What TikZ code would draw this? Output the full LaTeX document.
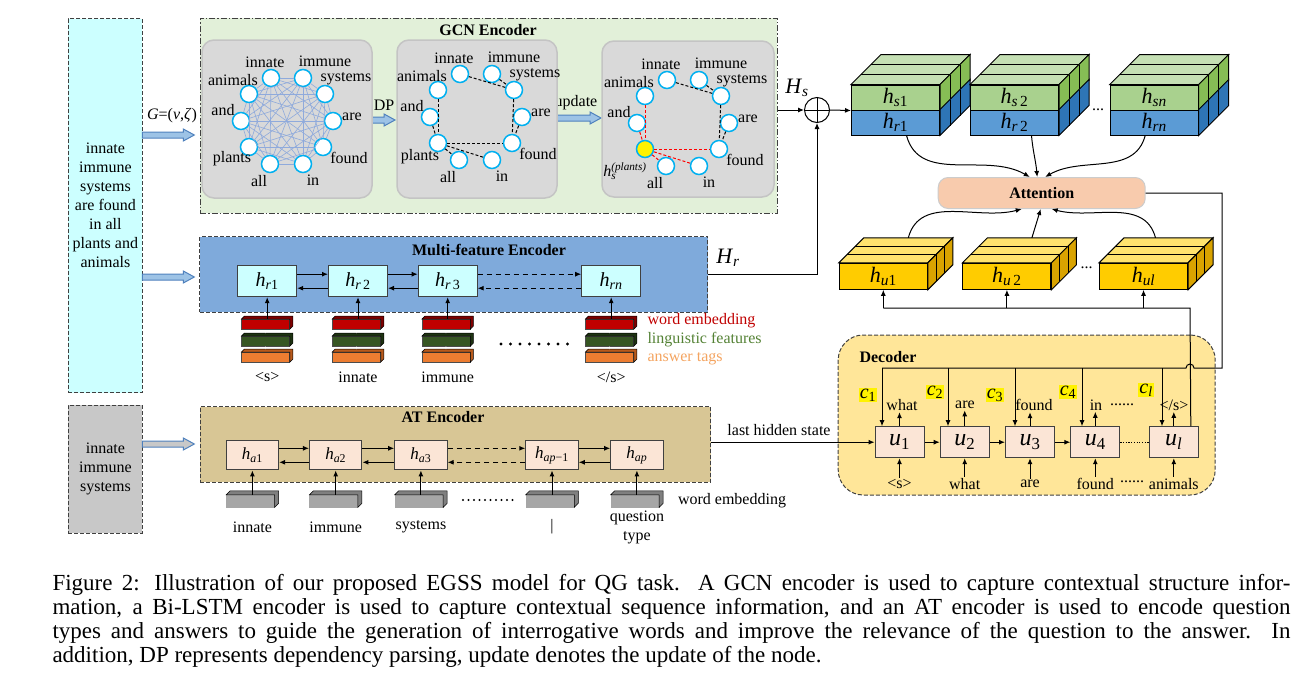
\documentclass[tikz,border=0pt]{standalone}
\usepackage{fontspec}
\setmainfont{Liberation Serif}
\usetikzlibrary{calc,arrows.meta}

\definecolor{cyanfill}{HTML}{CCFFFF}
\definecolor{ansgray}{HTML}{C8C8C8}
\definecolor{dkline}{HTML}{404040}
\definecolor{gcnfill}{HTML}{E2F0D9}
\definecolor{graphfill}{HTML}{D9D9D9}
\definecolor{graphline}{HTML}{C4C4C4}
\definecolor{circline}{HTML}{00B0F0}
\definecolor{kline}{HTML}{8FAADC}
\definecolor{arrfill}{HTML}{9DC3E6}
\definecolor{arrline}{HTML}{4F81BD}
\definecolor{mffill}{HTML}{7FAADB}
\definecolor{atfill}{HTML}{D8C695}
\definecolor{hafill}{HTML}{FBE5D6}
\definecolor{decfill}{HTML}{FFE699}
\definecolor{attfill}{HTML}{F8CBAD}
\definecolor{hsfront}{HTML}{A9D18E}
\definecolor{hstop}{HTML}{C5E0B4}
\definecolor{hsside}{HTML}{86BD55}
\definecolor{hrfront}{HTML}{5B9BD5}
\definecolor{hrside}{HTML}{2E75B6}
\definecolor{hufront}{HTML}{FFCC00}
\definecolor{hutop}{HTML}{FFE36E}
\definecolor{huside}{HTML}{D9A300}
\definecolor{webar}{HTML}{C00000}
\definecolor{webarside}{HTML}{7F0000}
\definecolor{lfbar}{HTML}{375623}
\definecolor{lfbarside}{HTML}{1E3312}
\definecolor{atbar}{HTML}{ED7D31}
\definecolor{atbarside}{HTML}{B85A1C}
\definecolor{graybar}{HTML}{A6A6A6}
\definecolor{graybarside}{HTML}{7F7F7F}
\definecolor{legred}{HTML}{C00000}
\definecolor{leggreen}{HTML}{548235}
\definecolor{legorange}{HTML}{F4A460}
\definecolor{dpred}{HTML}{FF0000}

% fonts (1 pixel of the figure = 1pt)
\newcommand{\lblfont}{\fontsize{16}{19}\selectfont}
\newcommand{\ttlfont}{\fontsize{16}{19}\selectfont\bfseries}
\newcommand{\bighfont}{\fontsize{22}{24}\selectfont}
\newcommand{\midhfont}{\fontsize{20}{22}\selectfont}
\newcommand{\smallhfont}{\fontsize{17}{19}\selectfont}
\newcommand{\ufont}{\fontsize{24}{26}\selectfont}
\newcommand{\capfont}{\fontsize{23}{24}\selectfont}

% italic letter with subscript
\newcommand{\vlab}[2]{\textit{#1}\textsubscript{#2}}

% block arrow: start, length, fill
\newcommand{\blockarr}[3]{%
  \draw[draw=arrline, fill=#3, line width=1pt] #1 ++(0,-3) -- ++(#2-11,0) -- ++(0,-3)
    -- ++(11,6) -- ++(-11,6) -- ++(0,-3) -- ++(-#2+11,0) -- cycle;}

% top and side faces of the stacked vectors
\newcommand{\slabtop}[3]{%
  \draw[fill=#3] (#1.north west) -- ++(#2,-#2) -- ($(#1.north east)+(#2,-#2)$) -- (#1.north east) -- cycle;
  \draw ($(#1.north west)+(#2/3,-#2/3)$) -- ($(#1.north east)+(#2/3,-#2/3)$);
  \draw ($(#1.north west)+(2*#2/3,-2*#2/3)$) -- ($(#1.north east)+(2*#2/3,-2*#2/3)$);}
\newcommand{\slabside}[3]{%
  \draw[fill=#3] (#1.north east) -- ++(#2,-#2) -- ($(#1.south east)+(#2,-#2)$) -- (#1.south east) -- cycle;
  \draw ($(#1.north east)+(#2/3,-#2/3)$) -- ($(#1.south east)+(#2/3,-#2/3)$);
  \draw ($(#1.north east)+(2*#2/3,-2*#2/3)$) -- ($(#1.south east)+(2*#2/3,-2*#2/3)$);}

% small 3d bar edge
\newcommand{\barthreed}[3]{%
  \draw[fill=#3, line width=0.5pt] (#1.north west) -- ++(#2,-#2) -- ($(#1.north east)+(#2,-#2)$)
    -- ($(#1.south east)+(#2,-#2)$) -- (#1.south east) -- (#1.north east) -- cycle;}

% word graph: prefix, centre x, centre y, fill of the plants node
\newcommand{\wordgraph}[4]{%
  \node[wnode] (#1innate) at (#2-16,#3-43) {};
  \node[wnode] (#1immune) at (#2+16,#3-43) {};
  \node[wnode] (#1systems) at (#2+38,#3-27) {};
  \node[wnode] (#1are) at (#2+46,#3) {};
  \node[wnode] (#1found) at (#2+36,#3+26) {};
  \node[wnode] (#1in) at (#2+16,#3+43) {};
  \node[wnode] (#1all) at (#2-17,#3+43) {};
  \node[wnode, fill=#4] (#1plants) at (#2-38,#3+26) {};
  \node[wnode] (#1and) at (#2-46,#3) {};
  \node[wnode] (#1animals) at (#2-38,#3-27) {};
  \node[lbl] (#1innatel) at (#2-22,#3-59) {innate};
  \node[lbl] (#1immunel) at (#2+38,#3-60) {immune};
  \node[lbl] (#1systemsl) at (#2+59,#3-42) {systems};
  \node[lbl] (#1arel) at (#2+65,#3-4) {are};
  \node[lbl] (#1foundl) at (#2+62,#3+37) {found};
  \node[lbl] (#1inl) at (#2+26,#3+59) {in};
  \node[lbl] (#1alll) at (#2-28,#3+60) {all};
  \node[lbl] (#1andl) at (#2-64,#3-11) {and};
  \node[lbl] (#1animalsl) at (#2-54,#3-41) {animals};}

% feature column of the multi-feature encoder: id, x, word, box above
\newcommand{\featcol}[4]{%
  \node[embbar, fill=webar] (#1we) at (#2-1.5,324) {};
  \node[embbar, fill=lfbar] (#1lf) at (#2-1.5,341) {};
  \node[embbar, fill=atbar] (#1at) at (#2-1.5,357) {};
  \barthreed{#1we}{3}{webarside}
  \barthreed{#1lf}{3}{lfbarside}
  \barthreed{#1at}{3}{atbarside}
  \node[plus] (#1pa) at (#2-1.5,332.5) {+};
  \node[plus] (#1pb) at (#2-1.5,349) {+};
  \node[lbl] (#1word) at (#2,377) {#3};
  \draw[->] (#1we.north -| #4.south) -- (#4.south);}

% word column of the AT encoder: id, x, word, box above
\newcommand{\atcol}[4]{%
  \node[embbar, fill=graybar, minimum height=12, draw=graybar] (#1bar) at (#2-2,501) {};
  \barthreed{#1bar}{4}{graybarside}
  \node[lbl] (#1word) at (#2,527) {#3};
  \draw[->] (#1bar.north -| #4.south) -- (#4.south);}

\begin{document}
\begin{tikzpicture}[x=1pt,y=-1pt,line width=1pt,>={Latex[length=6pt,width=5pt]}]
  % Define styles for nodes
  \tikzstyle{inbox} = [rectangle, draw=dkline, dash pattern=on 4pt off 2pt, align=center,
  font=\lblfont, inner sep=0]
  \tikzstyle{panel} = [rectangle, draw=dkline, dash pattern=on 4pt off 2pt, inner sep=0]
  \tikzstyle{gpanel} = [rectangle, rounded corners=12, fill=graphfill, draw=graphline,
  line width=1.5pt, inner sep=0]
  \tikzstyle{ttl} = [font=\ttlfont, inner sep=1pt]
  \tikzstyle{lbl} = [font=\lblfont, inner sep=1pt, align=center]
  \tikzstyle{hlbl} = [font=\bighfont, inner sep=1pt]
  \tikzstyle{wnode} = [circle, draw=circline, fill=white, line width=1.5pt,
  minimum size=17, inner sep=0]
  \tikzstyle{kedge} = [draw=kline, line width=0.6pt]
  \tikzstyle{dpedge} = [dash pattern=on 3pt off 2pt, line width=1pt]
  \tikzstyle{hsface} = [rectangle, draw, fill=hsfront, minimum width=88, minimum height=25,
  inner sep=0, font=\bighfont]
  \tikzstyle{hrface} = [hsface, fill=hrfront]
  \tikzstyle{huface} = [hsface, fill=hufront, minimum height=26]
  \tikzstyle{hrbox} = [rectangle, draw=dkline, fill=cyanfill, minimum width=59, minimum height=31,
  inner sep=0, font=\midhfont]
  \tikzstyle{habox} = [rectangle, draw=dkline, fill=hafill, minimum width=52.5, minimum height=29.3,
  inner sep=0, font=\smallhfont]
  \tikzstyle{ubox} = [rectangle, draw=dkline, fill=hafill, minimum width=49, minimum height=31,
  inner sep=0, font=\ufont]
  \tikzstyle{cbox} = [fill=yellow, inner sep=1pt, font=\midhfont]
  \tikzstyle{embbar} = [rectangle, draw=black!70, line width=0.5pt, minimum width=48,
  minimum height=9.5, inner sep=0]
  \tikzstyle{plus} = [font=\fontsize{7}{7}\selectfont, inner sep=0, text=white]

  \useasboundingbox (0,0) rectangle (1300,696);

  % Input sentence and answer
  \node[inbox, fill=cyanfill, minimum width=74, minimum height=374] (sent) at (105.4,205.6)
  {innate\\immune\\systems\\are found\\in all\\plants and\\animals};
  \node[inbox, fill=ansgray, minimum width=74, minimum height=128] (ans) at (105.4,469)
  {innate\\immune\\systems};

  % Encoder panels
  \node[panel, fill=gcnfill, dash pattern=on 6pt off 2pt on 1.5pt off 2pt,
  minimum width=577, minimum height=195] (gcn) at (488.5,115.5) {};
  \node[ttl] (gcntitle) at (488,30) {GCN Encoder};
  \node[panel, fill=mffill, minimum width=508, minimum height=75.6] (mf) at (453.9,274.5) {};
  \node[ttl] (mftitle) at (489,250) {Multi-feature Encoder};
  \node[panel, fill=atfill, minimum width=510.6, minimum height=75.6] (atp) at (455.3,444.5) {};
  \node[ttl] (attitle) at (443,417) {AT Encoder};

  % Block arrows between the panels
  \blockarr{(142.3,135)}{52}{arrfill}
  \node[lbl] (glabel) at (172,116) {\textit{G}=(\textit{ν},\textit{ζ})};
  \blockarr{(142.3,277)}{52}{arrfill}
  \blockarr{(142.3,444)}{52}{ansgray}
  \blockarr{(372,120)}{23}{arrfill}
  \node[lbl] (dplabel) at (384,105) {DP};
  \blockarr{(557,118)}{44}{arrfill}
  \node[lbl] (uplabel) at (576,103) {update};

  % Graph panels
  \node[gpanel, minimum width=170, minimum height=158] (gp1) at (287,119) {};
  \node[gpanel, minimum width=160, minimum height=158] (gp2) at (477,119) {};
  \node[gpanel, minimum width=172, minimum height=156] (gp3) at (688,119) {};

  \wordgraph{ga}{287}{121}{white}
  \wordgraph{gb}{476}{117}{white}
  \wordgraph{gc}{683}{123}{yellow}
  \node[lbl] (gaplantsl) at (232,159) {plants};
  \node[lbl] (gbplantsl) at (420,157) {plants};
  \node[lbl] (gchs) at (625,171) {\textit{h}\rlap{\textsubscript{\textit{s}}}\textsuperscript{\textit{(plants)}}};

  % fully connected graph
  \foreach \a [count=\i] in {innate,immune,systems,are,found,in,all,plants,and,animals}
  \foreach \b [count=\j] in {innate,immune,systems,are,found,in,all,plants,and,animals}
  {\ifnum\j>\i\relax \draw[kedge] (ga\a) -- (ga\b);\fi}

  % dependency tree
  \draw[dpedge] (gbinnate) -- (gbsystems);
  \draw[dpedge] (gbimmune) -- (gbsystems);
  \draw[dpedge] (gbsystems) -- (gbfound);
  \draw[dpedge] (gbare) -- (gbfound);
  \draw[dpedge] (gbplants) -- (gbfound);
  \draw[dpedge] (gbanimals) -- (gbplants);
  \draw[dpedge] (gband) -- (gbplants);
  \draw[dpedge] (gbplants) -- (gball);
  \draw[dpedge] (gbplants) -- (gbin);

  % updated node
  \draw[dpedge] (gcinnate) -- (gcsystems);
  \draw[dpedge] (gcimmune) -- (gcsystems);
  \draw[dpedge] (gcsystems) -- (gcfound);
  \draw[dpedge] (gcare) -- (gcfound);
  \draw[dpedge, dpred] (gcanimals) -- (gcplants);
  \draw[dpedge, dpred] (gcand) -- (gcplants);
  \draw[dpedge, dpred] (gcplants) -- (gcfound);
  \draw[dpedge, dpred] (gcplants) -- (gcall);
  \draw[dpedge, dpred] (gcplants) -- (gcin);

  % Multi-feature encoder
  \node[hrbox] (hrb1) at (267.2,281.2) {\vlab{h}{\textit{r}1}};
  \node[hrbox] (hrb2) at (358,281.2) {\vlab{h}{\textit{r}\,2}};
  \node[hrbox] (hrb3) at (447.7,281.2) {\vlab{h}{\textit{r}\,3}};
  \node[hrbox] (hrbn) at (611.2,281.2) {\vlab{h}{\textit{rn}}};
  \draw[->] ($(hrb1.east)+(0,-7)$) -- ($(hrb2.west)+(0,-7)$);
  \draw[->] ($(hrb2.west)+(0,7)$) -- ($(hrb1.east)+(0,7)$);
  \draw[->] ($(hrb2.east)+(0,-7)$) -- ($(hrb3.west)+(0,-7)$);
  \draw[->] ($(hrb3.west)+(0,7)$) -- ($(hrb2.east)+(0,7)$);
  \draw[->, dash pattern=on 5pt off 4pt] ($(hrb3.east)+(0,-7)$) -- ($(hrbn.west)+(0,-7)$);
  \draw[->, dash pattern=on 5pt off 4pt] ($(hrbn.west)+(0,7)$) -- ($(hrb3.east)+(0,7)$);

  \featcol{fa}{267.2}{<s>}{hrb1}
  \featcol{fb}{358}{innate}{hrb2}
  \featcol{fc}{447.7}{immune}{hrb3}
  \featcol{fn}{611.2}{</s>}{hrbn}
  \foreach \k in {0,...,7} \fill (501+\k*9.5,344) circle (1.6);

  \node[lbl, anchor=west, text=legred] (legwe) at (646,321) {word embedding};
  \node[lbl, anchor=west, text=leggreen] (leglf) at (646,339.3) {linguistic features};
  \node[lbl, anchor=west, text=legorange] (legat) at (646,358.3) {answer tags};

  % AT encoder
  \node[habox] (ha1) at (252.4,455.3) {\vlab{h}{\textit{a}1}};
  \node[habox] (ha2) at (335.7,455.3) {\vlab{h}{\textit{a}2}};
  \node[habox] (ha3) at (420.9,455.3) {\vlab{h}{\textit{a}3}};
  \node[habox] (hap1) at (552,455.3) {\vlab{h}{\textit{ap}−1}};
  \node[habox] (hap) at (636.9,455.3) {\vlab{h}{\textit{ap}}};
  \draw[->] ($(ha1.east)+(0,-7)$) -- ($(ha2.west)+(0,-7)$);
  \draw[->] ($(ha2.west)+(0,7)$) -- ($(ha1.east)+(0,7)$);
  \draw[->] ($(ha2.east)+(0,-7)$) -- ($(ha3.west)+(0,-7)$);
  \draw[->] ($(ha3.west)+(0,7)$) -- ($(ha2.east)+(0,7)$);
  \draw[->, dash pattern=on 5pt off 4pt] ($(ha3.east)+(0,-7)$) -- ($(hap1.west)+(0,-7)$);
  \draw[->, dash pattern=on 5pt off 4pt] ($(hap1.west)+(0,7)$) -- ($(ha3.east)+(0,7)$);
  \draw[->] ($(hap1.east)+(0,-7)$) -- ($(hap.west)+(0,-7)$);
  \draw[->] ($(hap.west)+(0,7)$) -- ($(hap1.east)+(0,7)$);

  \atcol{wa}{252.4}{innate}{ha1}
  \atcol{wb}{335.7}{immune}{ha2}
  \atcol{wc}{420.9}{systems}{ha3}
  \atcol{wd}{552}{|}{hap1}
  \atcol{we}{636.9}{question\\type}{hap}
  \foreach \k in {0,...,9} \fill (463+\k*5.5,500) circle (1.1);
  \node[lbl] (atwe) at (732,501) {word embedding};

  % Fusion of H_s and H_r
  \node[circle, draw, fill=white, minimum size=25, inner sep=0] (oplus) at (817,110) {};
  \draw (oplus.north) -- (oplus.south) (oplus.west) -- (oplus.east);
  \node[hlbl] (hslabel) at (797,88) {\vlab{H}{\textit{s}}};
  \node[hlbl] (hrlabel) at (728,258) {\vlab{H}{\textit{r}}};

  % Stacked sentence vectors
  \node[hsface] (hs1) at (895.5,97.5) {\vlab{h}{\textit{s}1}};
  \node[hrface] (hr1) at (895.5,122.5) {\vlab{h}{\textit{r}1}};
  \node[hsface] (hs2) at (1014.5,97.5) {\vlab{h}{\textit{s}\,2}};
  \node[hrface] (hr2) at (1014.5,122.5) {\vlab{h}{\textit{r}\,2}};
  \node[hsface] (hsn) at (1154.2,97.5) {\vlab{h}{\textit{sn}}};
  \node[hrface] (hrn) at (1154.2,122.5) {\vlab{h}{\textit{rn}}};
  \slabtop{hs1}{30}{hstop} \slabside{hs1}{30}{hsside} \slabside{hr1}{30}{hrside}
  \slabtop{hs2}{30}{hstop} \slabside{hs2}{30}{hsside} \slabside{hr2}{30}{hrside}
  \slabtop{hsn}{30}{hstop} \slabside{hsn}{30}{hsside} \slabside{hrn}{30}{hrside}
  \node[lbl] (hdots) at (1098,110) {...};

  \draw[->] (gcn.east |- oplus) -- (oplus.west);
  \draw[->] (oplus.east) -- (hs1.south west);
  \draw[->] (mf.east) -| (oplus.south);

  % Attention
  \node[rectangle, rounded corners=10, fill=attfill, draw=black!20, minimum width=207,
  minimum height=31, font=\ttlfont] (att) at (1041.7,193) {Attention};
  \draw[->] ($(hr1.south)+(11,0)$) to[out=-75,in=150] ($(att.north)+(-12,0)$);
  \draw[->] ($(hr2.south)+(17,0)$) to[out=-85,in=95] ($(att.north)+(-4.5,0)$);
  \draw[->] ($(hrn.south)+(-9,0)$) to[out=-105,in=30] ($(att.north)+(3.5,0)$);

  % Answer-aware vectors
  \node[huface] (hu1) at (883.3,276.3) {\vlab{h}{\textit{u}1}};
  \node[huface] (hu2) at (1006.9,276.3) {\vlab{h}{\textit{u}\,2}};
  \node[huface] (hul) at (1143.5,276.3) {\vlab{h}{\textit{ul}}};
  \slabtop{hu1}{25}{hutop} \slabside{hu1}{25}{huside}
  \slabtop{hu2}{25}{hutop} \slabside{hu2}{25}{huside}
  \slabtop{hul}{25}{hutop} \slabside{hul}{25}{huside}
  \node[lbl] (udots) at (1086.7,268) {...};
  \draw[->] ($(hu1.north)+(25,-25)$) to[out=75,in=-165] ($(att.south)+(-20,0)$);
  \draw[->] ($(hu2.north)+(25,-25)$) -- ($(att.south)+(-1,0)$);
  \draw[->] ($(hul.north)+(12,-25)$) to[out=105,in=-15] ($(att.south)+(10,0)$);

  % Decoder
  \node[panel, fill=decfill, rounded corners=25, minimum width=377, minimum height=160]
  (dec) at (1026.7,415) {};
  \node[ttl] (dectitle) at (888,357) {Decoder};
  \node[ubox] (u1) at (899.5,442.2) {\vlab{u}{1}};
  \node[ubox] (u2) at (964.7,442.2) {\vlab{u}{2}};
  \node[ubox] (u3) at (1030,442.2) {\vlab{u}{3}};
  \node[ubox] (u4) at (1095.3,442.2) {\vlab{u}{4}};
  \node[ubox] (ul) at (1173.8,442.2) {\vlab{u}{\textit{l}}};
  \draw[->] (u1) -- (u2);
  \draw[->] (u2) -- (u3);
  \draw[->] (u3) -- (u4);
  \draw[dash pattern=on 1.2pt off 1.5pt] (u4) -- (ul);

  % words produced and fed back
  \node[lbl] (o1) at (902,405) {what};
  \node[lbl] (o2) at (965,405) {are};
  \node[lbl] (o3) at (1034,405) {found};
  \node[lbl] (o4) at (1096,405) {in};
  \node[lbl] (odots) at (1122,405) {......};
  \node[lbl] (ol) at (1174,405) {</s>};
  \node[lbl] (i1) at (899.5,484) {<s>};
  \node[lbl] (i2) at (964.7,484) {what};
  \node[lbl] (i3) at (1030,484) {are};
  \node[lbl] (i4) at (1095.3,484) {found};
  \node[lbl] (idots) at (1132,482) {......};
  \node[lbl] (il) at (1173.8,484) {animals};
  \foreach \n in {1,2,3,4,l} {
    \draw[->] (u\n.north) -- (u\n.north |- o\n.south);
    \draw[->] (i\n.north -| u\n.south) -- (u\n.south);
  }

  % context vectors
  \coordinate (ctxr) at (1222,368);
  \coordinate (hopr) at (1194,368);
  \coordinate (ctx1) at (882,368);
  \coordinate (ctx2) at (948,368);
  \coordinate (ctx3) at (1015,368);
  \coordinate (ctx4) at (1082,368);
  \coordinate (ctxl) at (1162,368);
  \draw (att.east) -| (ctxr) -- (hopr) arc[start angle=0, end angle=-180, radius=4] -- (ctx1);
  \foreach \n in {1,2,3,4,l} \draw[->] (ctx\n) -- (ctx\n |- u\n.north);
  \node[cbox] (c1) at (868,395) {\vlab{c}{1}};
  \node[cbox] (c2) at (935,392) {\vlab{c}{2}};
  \node[cbox] (c3) at (995,395) {\vlab{c}{3}};
  \node[cbox] (c4) at (1068,392) {\vlab{c}{4}};
  \node[cbox] (cl) at (1146,390) {\vlab{c}{\textit{l}}};

  % decoder state fed to the answer-aware vectors
  \coordinate (hub) at (1190,308);
  \draw ($(ul.north east)+(-8,0)$) -- (hub) -- (hub -| hu1.south);
  \draw[->] (hub -| hu1.south) -- (hu1.south);
  \draw[->] (hub -| hu2.south) -- (hu2.south);
  \draw[->] (hub -| hul.south) -- (hul.south);

  % last hidden state of the AT encoder
  \draw[->] (atp.east |- u1.west) -- (u1.west);
  \node[lbl] (lhs) at (779,430) {last hidden state};

  % Caption
  \node[anchor=north west, align=left, inner sep=0, font=\capfont] (caption) at (52,574)
  {\makebox[1238pt][s]{Figure 2: Illustration of our proposed EGSS model for QG task. A GCN encoder is used to capture contextual structure infor-}\\
   \makebox[1238pt][s]{mation, a Bi-LSTM encoder is used to capture contextual sequence information, and an AT encoder is used to encode question}\\
   \makebox[1238pt][s]{types and answers to guide the generation of interrogative words and improve the relevance of the question to the answer. In}\\
   addition, DP represents dependency parsing, update denotes the update of the node.};
\end{tikzpicture}
\end{document}
